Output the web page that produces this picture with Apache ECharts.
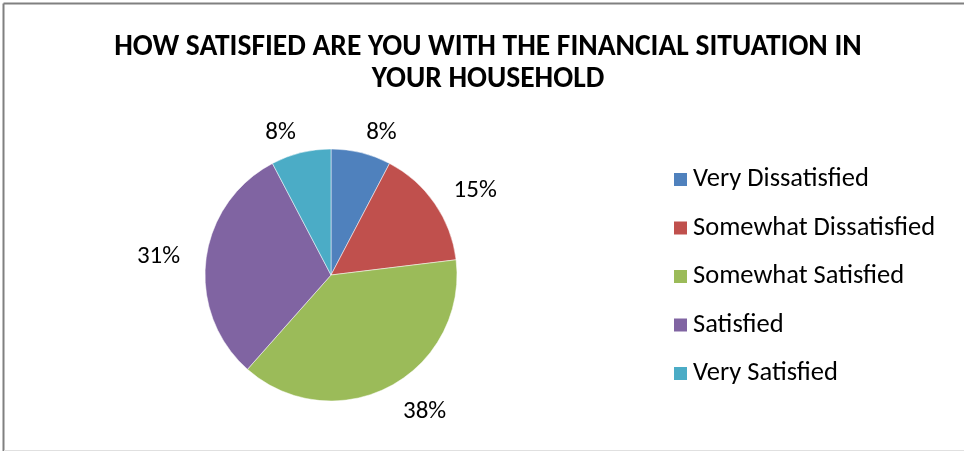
<!DOCTYPE html>
<html>
<head>
<meta charset="utf-8">
<script src="https://cdn.jsdelivr.net/npm/echarts@6/dist/echarts.min.js"></script>
<style>
html,body{margin:0;padding:0;background:#fff;}
#chart{width:964px;height:451px;}
</style>
</head>
<body>
<div id="chart"></div>
<script>
var titleText = "HOW SATISFIED ARE YOU WITH THE FINANCIAL SITUATION IN\nYOUR HOUSEHOLD";
var categories = ["Very Dissatisfied", "Somewhat Dissatisfied", "Somewhat Satisfied", "Satisfied", "Very Satisfied"];
var values = [7.7, 15.4, 38.5, 30.8, 7.7];
var colors = ["#4F81BD", "#C0504D", "#9BBB59", "#8064A2", "#4BACC6"];
// label offset from the pie edge (style)
var labelGap = [21, 23, 29, 26, 21];

var FONT = "Carlito, 'Open Sans', sans-serif";
var chart = echarts.init(document.getElementById('chart'), null, {renderer: 'canvas'});
chart.setOption({
  animation: false,
  backgroundColor: '#fff',
  color: colors,
  title: {
    text: titleText,
    left: 483,
    top: 27,
    textAlign: 'center',
    textStyle: {fontFamily: FONT, fontSize: 29.5, fontWeight: 'bold', color: '#000', lineHeight: 32}
  },
  legend: {
    orient: 'vertical',
    left: 667,
    top: 161,
    icon: 'rect',
    itemWidth: 15,
    itemHeight: 15,
    itemGap: 21.5,
    textStyle: {fontFamily: FONT, fontSize: 26.5, color: '#000', lineHeight: 26},
    data: categories
  },
  graphic: [
    {type: 'line', shape: {x1: 3.5, y1: 3.5, x2: 964, y2: 3.5}, style: {stroke: '#808080', lineWidth: 2}},
    {type: 'line', shape: {x1: 3.5, y1: 3.5, x2: 3.5, y2: 451}, style: {stroke: '#808080', lineWidth: 2}},
    {type: 'line', shape: {x1: 4, y1: 450.5, x2: 964, y2: 450.5}, style: {stroke: '#e0e0e0', lineWidth: 1}}
  ],
  series: [{
    type: 'pie',
    center: [331, 275],
    radius: 126,
    startAngle: 90,
    clockwise: true,
    avoidLabelOverlap: false,
    itemStyle: {borderColor: '#fff', borderWidth: 0.5},
    label: {
      show: true,
      position: 'outside',
      distanceToLabelLine: 0,
      fontFamily: FONT,
      fontSize: 25,
      color: '#000',
      formatter: function (p) { return Math.round(p.percent) + '%'; }
    },
    labelLine: {show: false, length: 21, length2: 0},
    emphasis: {disabled: true},
    data: categories.map(function (c, i) {
      return {name: c, value: values[i], labelLine: {length: labelGap[i], length2: 0}};
    })
  }]
});
</script>
</body>
</html>
